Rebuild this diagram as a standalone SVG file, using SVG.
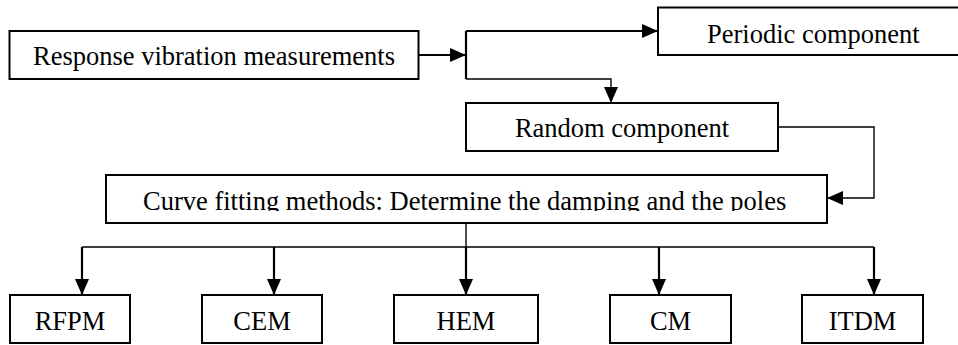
<svg xmlns="http://www.w3.org/2000/svg" width="958" height="345" viewBox="0 0 958 345">
<style>
.box{fill:#fff;stroke:#000;stroke-width:2}
.t{font-family:"Liberation Serif","Times New Roman",serif;font-size:26.5px;fill:#000}
.c{fill:none;stroke:#000;stroke-width:2.2}
.thin{fill:none;stroke:#000;stroke-width:1.4}
</style>
<defs>
<marker id="ah" markerUnits="userSpaceOnUse" markerWidth="16" markerHeight="14" refX="16" refY="7" orient="auto">
<path d="M0,0 L16,7 L0,14 Z" fill="#000"/>
</marker>
<clipPath id="cclip"><rect x="106" y="175" width="721" height="36"/></clipPath>
</defs>
<rect width="958" height="345" fill="#fff"/>
<g id="connectors">
<path class="c" d="M419,55 H466" marker-end="url(#ah)"/>
<path class="c" d="M466,31 V79"/>
<path class="c" d="M466,31 H658" marker-end="url(#ah)"/>
<path class="thin" d="M466,79 H611 V103" marker-end="url(#ah)"/>
<path class="thin" d="M778,127 H874 V198 H827" marker-end="url(#ah)"/>
<path class="thin" d="M466,223 V247 M82,247 H874"/>
<path class="c" d="M82,247 V295" marker-end="url(#ah)"/>
<path class="c" d="M274,247 V295" marker-end="url(#ah)"/>
<path class="c" d="M466,247 V295" marker-end="url(#ah)"/>
<path class="c" d="M659,247 V295" marker-end="url(#ah)"/>
<path class="c" d="M874,247 V295" marker-end="url(#ah)"/>
</g>
<g id="n-response">
<rect class="box" x="9.5" y="31" width="409" height="48"/>
<text class="t" x="214" y="65" text-anchor="middle">Response vibration measurements</text>
</g>
<g id="n-periodic">
<rect class="box" x="658" y="7.5" width="310" height="47.5"/>
<text class="t" x="707" y="43">Periodic component</text>
</g>
<g id="n-random">
<rect class="box" x="466" y="103" width="312" height="48"/>
<text class="t" x="622" y="137" text-anchor="middle">Random component</text>
</g>
<g id="n-curve">
<rect class="box" x="106" y="175" width="721" height="48"/>
<text class="t" x="143" y="210" clip-path="url(#cclip)">Curve fitting methods: Determine the damping and the poles</text>
</g>
<g id="n-rfpm">
<rect class="box" x="10" y="295" width="120" height="48"/>
<text class="t" x="70" y="330" text-anchor="middle">RFPM</text>
</g>
<g id="n-cem">
<rect class="box" x="202" y="295" width="120" height="48"/>
<text class="t" x="262" y="330" text-anchor="middle">CEM</text>
</g>
<g id="n-hem">
<rect class="box" x="394" y="295" width="144" height="48"/>
<text class="t" x="466" y="330" text-anchor="middle">HEM</text>
</g>
<g id="n-cm">
<rect class="box" x="610" y="295" width="121" height="48"/>
<text class="t" x="670.5" y="330" text-anchor="middle">CM</text>
</g>
<g id="n-itdm">
<rect class="box" x="802" y="295" width="121" height="48"/>
<text class="t" x="862.5" y="330" text-anchor="middle">ITDM</text>
</g>
</svg>
